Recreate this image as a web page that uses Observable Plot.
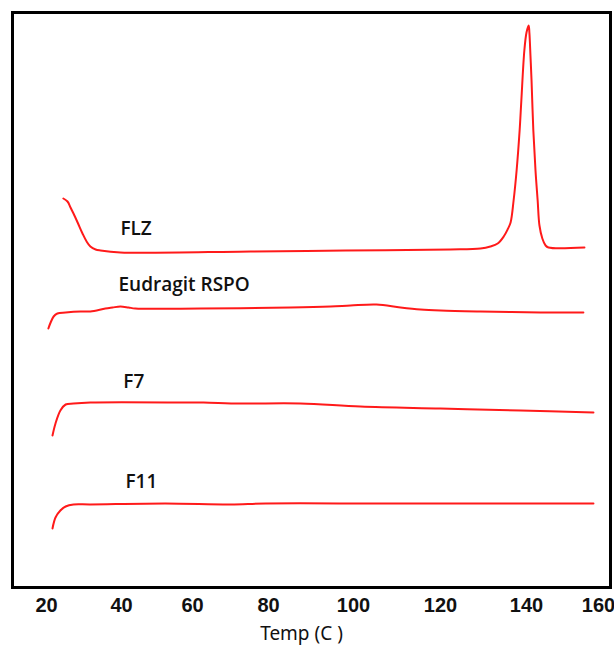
<!DOCTYPE html>
<html>
<head>
<meta charset="utf-8">
<script src="https://cdn.jsdelivr.net/npm/d3@7"></script>
<script src="https://cdn.jsdelivr.net/npm/@observablehq/plot@0.6"></script>
<style>
  html, body { margin: 0; padding: 0; background: #fff; }
  #chart svg { display: block; }
</style>
</head>
<body>
<div id="chart"></div>
<script>
// Tick labels on the temperature axis (as printed; spacing in the source image is slightly uneven)
const tickTemps = [20, 40, 60, 80, 100, 120, 140, 160];
const tickPixels = [46, 121, 192, 268, 353, 440, 526, 598];

// Series names
const seriesNames = ["FLZ", "Eudragit RSPO", "F7", "F11"];

// FLZ (offset heat flow, arbitrary units)
const flzTemp = [24.5, 25.6, 26.4, 27.2, 28.3, 29.6, 30.7, 31.7, 33.1, 34.4, 39.7, 75.3, 98.1, 122.3, 129.3, 131.6, 133.3, 134.7, 135.6, 136.3, 137.0, 137.7, 138.4, 138.8, 139.5, 140.0, 140.6, 140.8, 141.1, 141.4, 141.9, 142.5, 143.1, 143.6, 144.4, 145.3, 146.1, 156.1];
const flzValue = [389, 386, 380, 374, 365, 354, 346, 341, 338, 337, 335, 336, 337, 338, 339, 341, 344, 351, 358, 365, 387, 417, 457, 487, 537, 555, 562, 555, 532, 507, 457, 417, 387, 362, 349, 342, 340, 340];

// Eudragit RSPO
const eudTemp = [20.5, 21.1, 21.9, 22.9, 25.1, 29.1, 31.7, 35.7, 37.6, 39.7, 42.0, 43.9, 62.1, 85.2, 94.6, 99.3, 105.3, 110.8, 115.4, 120.0, 129.3, 143.9, 155.8];
const eudValue = [259, 265, 271, 274, 275, 276, 276, 279, 280, 281, 280, 279, 279, 280, 281, 282, 283, 280, 278, 277, 276, 275, 275];

// F7
const f7Temp = [21.6, 22.4, 23.7, 25.1, 27.2, 31.7, 59.4, 62.9, 72.6, 87.5, 101.6, 120.0, 138.6, 158.6];
const f7Value = [152, 164, 177, 183, 184, 185, 185, 185, 184, 184, 181, 179, 177, 175];

// F11
const f11Temp = [21.6, 22.4, 23.7, 25.1, 27.2, 31.7, 52.4, 70.0, 79.2, 105.1, 123.5, 158.6];
const f11Value = [59, 70, 77, 81, 83, 83, 84, 83, 84, 84, 84, 84];

// Label anchor positions (temperature, value)
const labelTemp = [39.7, 39.2, 40.5, 41.1];
const labelValue = [359, 303, 206, 106];

const temps = [flzTemp, eudTemp, f7Temp, f11Temp];
const values = [flzValue, eudValue, f7Value, f11Value];
const rows = seriesNames.flatMap((name, i) =>
  temps[i].map((t, j) => ({series: name, temp: t, value: values[i][j]})));
const labels = seriesNames.map((name, i) => ({series: name, temp: labelTemp[i], value: labelValue[i]}));

const chart = Plot.plot({
  width: 614,
  height: 653,
  marginLeft: 12,
  marginTop: 12,
  marginRight: 4,
  marginBottom: 66,
  style: {fontFamily: "'Liberation Sans', Arial, sans-serif", background: "#fff"},
  x: {type: "linear", domain: tickTemps, range: tickPixels},
  y: {domain: [0, 575], axis: null},
  marks: [
    Plot.frame({stroke: "#000", strokeWidth: 3}),
    Plot.line(rows, {x: "temp", y: "value", z: "series", stroke: "#ff1a1a", strokeWidth: 2, curve: "catmull-rom"}),
    Plot.text(labels, {x: "temp", y: "value", text: "series", textAnchor: "start", fontSize: 19, fontWeight: 600, fontFamily: "'Open Sans', 'Noto Sans', sans-serif", fill: "#111"}),
    Plot.axisX({ticks: tickTemps, tickSize: 0, tickPadding: 10, fontSize: 20, fontWeight: "bold", label: null, fill: "#111"}),
    Plot.text(["Temp (C )"], {frameAnchor: "bottom", dx: -10, dy: 52, fontSize: 19, fontFamily: "'Noto Sans', 'Open Sans', sans-serif", fill: "#111"})
  ]
});
document.getElementById("chart").appendChild(chart);
</script>
</body>
</html>
